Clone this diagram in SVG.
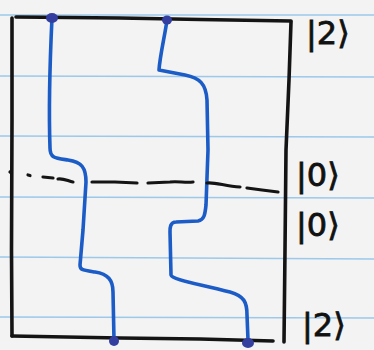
<svg xmlns="http://www.w3.org/2000/svg" width="374" height="350" viewBox="0 0 374 350">
  <style>
    .rule { stroke: #9cc8ea; stroke-width: 1.6; fill: none; }
    .frame { stroke: #141414; stroke-width: 3.6; fill: none; stroke-linecap: round; stroke-linejoin: round; }
    .wire { stroke: #1c5cc6; stroke-width: 3.6; fill: none; stroke-linecap: round; stroke-linejoin: round; }
    .cut { stroke: #141414; stroke-width: 3.2; fill: none; stroke-linecap: round; }
    .dot { fill: #343e9e; }
    .lbl { font-family: "DejaVu Sans", "Liberation Sans", sans-serif; font-size: 32px; fill: #111; stroke: #111; stroke-width: 0.8; }
  </style>
  <rect width="374" height="350" fill="#f3f3f3"/>
  <g id="paper">
    <line class="rule" x1="0" y1="15" x2="374" y2="15"/>
    <line class="rule" x1="0" y1="76" x2="374" y2="77"/>
    <line class="rule" x1="0" y1="136" x2="374" y2="137"/>
    <line class="rule" x1="0" y1="197" x2="374" y2="198"/>
    <line class="rule" x1="0" y1="257" x2="374" y2="259"/>
    <line class="rule" x1="0" y1="317" x2="374" y2="318"/>
  </g>
  <g id="frame">
    <path class="frame" d="M16,17 L120,18 L200,19.5 L291,21"/>
    <path class="frame" d="M12,18 L12,120 L11.5,250 L12,336"/>
    <path class="frame" d="M12,336 L120,338 L200,339 L273,341"/>
    <path class="frame" d="M291,22 L289,80 L286,150 L285,250 L284,342"/>
  </g>
  <g id="connectors">
    <path id="wire1" class="wire" d="M52,18 C50,60 49,120 50,148 C50,158 55,158 68,160 C82,162 86,168 86,182 L83,230 L80,265 C80,270 82,270 95,272 C108,274 113,280 113,292 L114,340"/>
    <path id="wire2" class="wire" d="M167,20 C165,35 160,55 159,70 L185,75 C200,78 206,84 207,100 L208,150 L206,205 C205,215 204,220 198,221 L176,222 C170,222 170,228 170,232 L171,275 C172,280 200,284 230,292 C244,296 247,302 247,315 L248,340"/>
    <g id="cut">
      <path class="cut" d="M10,172 L11,172.5"/>
      <path class="cut" d="M28,175 L30,175.5"/>
      <path class="cut" d="M43,177 L53,178"/>
      <path class="cut" d="M58,179 C63,178 68,181 73,182"/>
      <path class="cut" d="M92,182 L115,182 L137,183"/>
      <path class="cut" d="M148,183 L170,182 C178,181 185,183 193,182"/>
      <path class="cut" d="M207,183 C215,182 225,186 240,187"/>
      <path class="cut" d="M247,188 L262,190 L278,192"/>
    </g>
  </g>
  <g id="n1"><ellipse class="dot" cx="52" cy="18" rx="6" ry="5"/></g>
  <g id="n2"><ellipse class="dot" cx="167" cy="20" rx="5" ry="4.5"/></g>
  <g id="n3"><ellipse class="dot" cx="114" cy="341" rx="5" ry="5"/></g>
  <g id="n4"><ellipse class="dot" cx="248" cy="343" rx="6" ry="5"/></g>
  <g id="labels">
    <text class="lbl" x="306" y="44">|2⟩</text>
    <text class="lbl" x="296" y="186">|0⟩</text>
    <text class="lbl" x="296" y="236">|0⟩</text>
    <text class="lbl" x="302" y="336">|2⟩</text>
  </g>
</svg>
